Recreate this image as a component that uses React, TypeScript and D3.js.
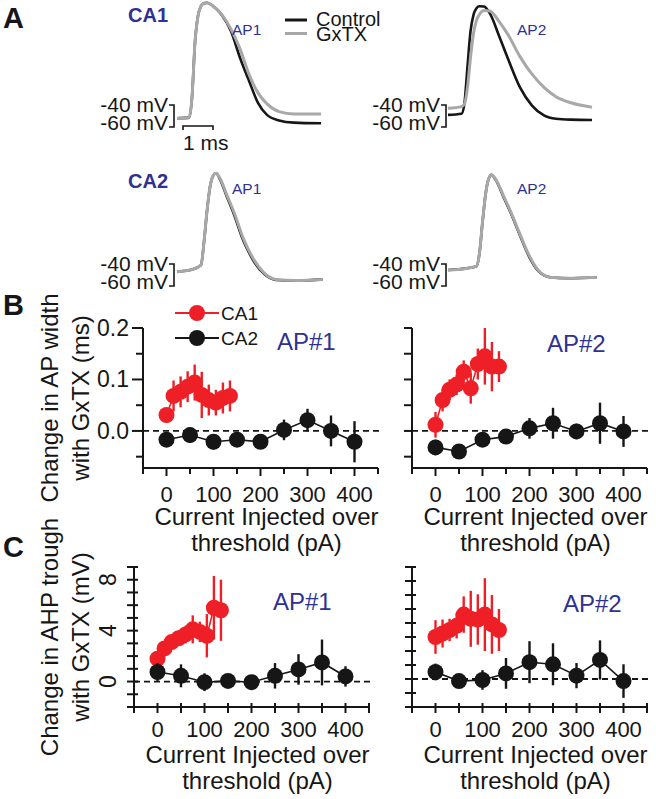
import React from "react";
import * as d3 from "d3";

// ---------- Panel A: action potential traces (time in ms, voltage in mV) ----------
const ca1Ap1Time = [0, 0.4, 0.5, 0.6, 0.7, 0.8, 0.9, 1.0, 1.2, 1.5, 1.8, 2.1, 2.4, 2.7, 3.0, 3.4, 3.9, 4.8];
const ca1Ap1Control = [-52, -51.5, -33, 17, 41, 50, 52.5, 53, 50, 41.5, 27, 3, -18, -38, -49, -54, -56, -56.6];
const ca1Ap1GxTX = [-52, -51.5, -33, 17, 41, 50, 52.5, 53, 50, 42, 29, 11, -12, -29, -39, -46, -48.2, -48.2];

const ca1Ap2Time = [0, 0.45, 0.55, 0.65, 0.75, 0.85, 0.95, 1.05, 1.2, 1.4, 1.7, 2.0, 2.4, 2.8, 3.2, 3.6, 4.1, 4.8];
const ca1Ap2Control = [-49, -48, -38, -5, 27, 42, 48, 49.8, 49.5, 43, 23, 2, -24, -40.5, -49.5, -52.5, -53.3, -53.6];
const ca1Ap2GxTX = [-43, -41.5, -39, -24, 3, 25, 37, 42.5, 46, 45.5, 36, 24, 4, -12, -24, -32.5, -38, -42];

const ca2Ap1Time = [0, 0.5, 0.8, 0.9, 1.0, 1.1, 1.2, 1.3, 1.45, 1.65, 1.9, 2.2, 2.55, 2.9, 3.3, 4.0, 4.85];
const ca2Ap1Control = [-47, -45, -41, -20, 8, 30, 40, 42.5, 36, 22, 5, -18, -37, -49, -54.5, -55.2, -54];
const ca2Ap1GxTX = [-47, -45, -41, -20, 8, 30, 40, 42.5, 37, 23.5, 7, -16, -35.5, -48, -54, -55, -54];

const ca2Ap2Time = [0, 0.6, 0.95, 1.05, 1.15, 1.25, 1.35, 1.45, 1.6, 1.85, 2.1, 2.4, 2.7, 3.0, 3.4, 4.0, 4.95];
const ca2Ap2Control = [-45.5, -44, -42, -30, -2, 23, 37, 41, 36, 21, 6, -14, -33, -46, -52, -53, -52];
const ca2Ap2GxTX = [-45.5, -44, -42, -30, -2, 23, 37, 41, 36.5, 22, 7, -13, -32, -45.5, -52, -53, -52];

// ---------- Panels B & C: current injected over threshold (pA) ----------
const ca1Current = [0, 15, 30, 45, 60, 75, 90, 105, 120, 135];
const ca2Current = [0, 50, 100, 150, 200, 250, 300, 350, 400];

// B: change in AP width (ms)
const widthAp1Ca1 = [0.031, 0.068, 0.076, 0.086, 0.094, 0.07, 0.06, 0.055, 0.064, 0.068];
const widthAp1Ca1Err = [0.012, 0.03, 0.03, 0.03, 0.035, 0.045, 0.03, 0.025, 0.03, 0.03];
const widthAp1Ca2 = [-0.017, -0.008, -0.021, -0.017, -0.021, 0.002, 0.021, 0.0, -0.021];
const widthAp1Ca2Err = [0.012, 0.015, 0.015, 0.012, 0.012, 0.02, 0.022, 0.03, 0.04];

const widthAp2Ca1 = [0.012, 0.06, 0.08, 0.09, 0.115, 0.083, 0.13, 0.145, 0.125, 0.125];
const widthAp2Ca1Err = [0.025, 0.022, 0.02, 0.02, 0.022, 0.03, 0.03, 0.055, 0.048, 0.03];
const widthAp2Ca2 = [-0.032, -0.04, -0.017, -0.011, 0.005, 0.015, -0.001, 0.015, -0.001];
const widthAp2Ca2Err = [0.015, 0.008, 0.012, 0.012, 0.02, 0.03, 0.015, 0.04, 0.03];

// C: change in AHP trough (mV)
const ahpAp1Ca1 = [1.8, 2.6, 3.1, 3.4, 3.7, 4.1, 3.9, 3.6, 5.8, 5.6];
const ahpAp1Ca1Err = [0.5, 0.5, 0.5, 0.6, 0.7, 1.1, 0.8, 1.7, 2.5, 2.4];
const ahpAp1Ca2 = [0.75, 0.45, -0.05, 0.05, -0.05, 0.45, 0.95, 1.5, 0.4];
const ahpAp1Ca2Err = [0.7, 0.9, 0.7, 0.45, 0.45, 1.0, 1.2, 1.8, 0.8];

const ahpAp2Ca1 = [3.0, 3.25, 3.5, 3.8, 4.6, 4.3, 4.25, 4.6, 3.9, 3.5];
const ahpAp2Ca1Err = [1.2, 1.0, 0.8, 0.9, 1.3, 2.0, 1.8, 2.6, 2.1, 1.5];
const ahpAp2Ca2 = [0.5, -0.15, -0.07, 0.4, 1.2, 1.05, 0.24, 1.36, -0.15];
const ahpAp2Ca2Err = [0.6, 0.5, 0.7, 1.1, 1.5, 1.5, 0.9, 1.4, 1.2];

const xTickValues = [-50, 0, 50, 100, 150, 200, 250, 300, 350, 400, 450];
const xTickLabels = [0, 100, 200, 300, 400];
const widthTicks = [-0.05, 0, 0.05, 0.1, 0.15, 0.2];
const widthTickLabels = [0, 0.1, 0.2];
const ahpTicksLeft = [-2, -1, 0, 1, 2, 3, 4, 5, 6, 7, 8, 9];
const ahpTicksRight = [-2, -1, 0, 1, 2, 3, 4, 5, 6, 7, 8];
const ahpTickLabels = [0, 4, 8];

const FONT = "'Liberation Sans', Arial, Helvetica, sans-serif";
const RED = "#ee1f26";
const BLK = "#161616";
const GRAY = "#a8a8a8";
const BLUE = "#2e3192";

type TraceProps = {
  time: number[];
  control: number[];
  gxtx: number[];
  x0: number;
  y60: number;
  label: string;
  labelX: number;
  bracketX: number;
  timeBar?: boolean;
};

function Trace({ time, control, gxtx, x0, y60, label, labelX, bracketX, timeBar }: TraceProps) {
  const xs = d3.scaleLinear().domain([0, 5]).range([x0, x0 + 150]);
  const ys = d3.scaleLinear().domain([-60, -40]).range([y60, y60 - 22]);
  const mk = (vals: number[]) =>
    d3
      .line<number>()
      .x((_, i) => xs(time[i]))
      .y((v) => ys(v))
      .curve(d3.curveMonotoneX)(vals) || "";
  const y40 = ys(-40);
  const yb = ys(-60);
  return (
    <g>
      <path d={mk(control)} fill="none" stroke={BLK} strokeWidth={2.6} />
      <path d={mk(gxtx)} fill="none" stroke={GRAY} strokeWidth={3} />
      <path
        d={`M${bracketX - 5},${y40} H${bracketX} V${yb} H${bracketX - 5}`}
        fill="none"
        stroke={BLK}
        strokeWidth={1.6}
      />
      <text x={bracketX - 6} y={y40 + 7} textAnchor="end" fontSize={21} fontFamily={FONT} fill={BLK}>
        -40 mV
      </text>
      <text x={bracketX - 6} y={yb + 3} textAnchor="end" fontSize={21} fontFamily={FONT} fill={BLK}>
        -60 mV
      </text>
      <text x={labelX} y={y60 - 92} fontSize={15.5} fontFamily={FONT} fill={BLUE}>
        {label}
      </text>
      {timeBar && (
        <g>
          <path
            d={`M${xs(0.2)},${yb + 3} V${yb - 1} H${xs(1.2)} V${yb + 3}`}
            fill="none"
            stroke={BLK}
            strokeWidth={1.6}
          />
          <text x={xs(0.2)} y={yb + 23} fontSize={21} fontFamily={FONT} fill={BLK}>
            1 ms
          </text>
        </g>
      )}
    </g>
  );
}

type PanelProps = {
  x0: number;
  yDomain: [number, number];
  yTop: number;
  yBottom: number;
  yTicks: number[];
  yLabels: number[] | null;
  yFormat: (v: number) => string;
  majorY: number[];
  kind: "B" | "C";
  red: number[];
  redErr: number[];
  black: number[];
  blackErr: number[];
  redOnTop: boolean;
  dashEnd: number;
  apLabel: string;
  apX: number;
  apY: number;
  leftPanel: boolean;
};

function Panel(p: PanelProps) {
  const xs = d3.scaleLinear().domain([-50, 450]).range([p.x0, p.x0 + 235]);
  const ys = d3.scaleLinear().domain(p.yDomain).range([p.yBottom, p.yTop]);
  const line = d3
    .line<[number, number]>()
    .x((d) => xs(d[0]))
    .y((d) => ys(d[1]));
  const series = (xv: number[], yv: number[], ev: number[], color: string, key: string) => (
    <g key={key}>
      <path d={line(xv.map((x, i) => [x, yv[i]])) || ""} fill="none" stroke={color} strokeWidth={1.6} />
      {xv.map((x, i) => (
        <line
          key={"e" + i}
          x1={xs(x)}
          x2={xs(x)}
          y1={ys(yv[i] - ev[i])}
          y2={ys(yv[i] + ev[i])}
          stroke={color}
          strokeWidth={2.4}
        />
      ))}
      {xv.map((x, i) => (
        <circle key={"c" + i} cx={xs(x)} cy={ys(yv[i])} r={8} fill={color} />
      ))}
    </g>
  );
  const redS = series(ca1Current, p.red, p.redErr, RED, "red");
  const blkS = series(ca2Current, p.black, p.blackErr, BLK, "blk");
  const axisX = p.x0;
  const axisY = p.yBottom;
  const cx = (xs(-50) + xs(450)) / 2 + 6;
  const tickY = p.kind === "B" ? axisY + 34 : axisY + 30;
  const title1Y = p.kind === "B" ? axisY + 57 : axisY + 56;
  return (
    <g fontFamily={FONT}>
      <line
        x1={axisX}
        x2={p.dashEnd}
        y1={ys(0)}
        y2={ys(0)}
        stroke={BLK}
        strokeWidth={1.8}
        strokeDasharray="6,4"
      />
      {/* y axis */}
      <line x1={axisX} x2={axisX} y1={p.yTop} y2={p.yBottom + 1} stroke={BLK} strokeWidth={2} />
      {p.yTicks.map((t) => {
        const y = ys(t);
        if (p.kind === "B") {
          const len = p.leftPanel ? (p.majorY.includes(t) ? 11 : 7) : 8;
          return <line key={"yt" + t} x1={axisX - len} x2={axisX} y1={y} y2={y} stroke={BLK} strokeWidth={2} />;
        }
        return <line key={"yt" + t} x1={axisX - 7} x2={axisX + 4} y1={y} y2={y} stroke={BLK} strokeWidth={2} />;
      })}
      {p.yLabels &&
        p.yLabels.map((t) =>
          p.kind === "B" ? (
            <text key={"yl" + t} x={axisX - 14} y={ys(t) + 8} textAnchor="end" fontSize={23} fill={BLK}>
              {p.yFormat(t)}
            </text>
          ) : (
            <text
              key={"yl" + t}
              transform={`translate(${axisX - 18},${ys(t)}) rotate(-90)`}
              textAnchor="middle"
              fontSize={23}
              fill={BLK}
            >
              {p.yFormat(t)}
            </text>
          )
        )}
      {/* x axis */}
      <line x1={axisX - 1} x2={xs(450)} y1={axisY} y2={axisY} stroke={BLK} strokeWidth={2} />
      {xTickValues.map((t) => {
        const x = xs(t);
        if (p.kind === "B") {
          const len = t % 100 === 0 ? 8 : 6;
          return <line key={"xt" + t} x1={x} x2={x} y1={axisY} y2={axisY + len} stroke={BLK} strokeWidth={2} />;
        }
        return <line key={"xt" + t} x1={x} x2={x} y1={axisY - 4} y2={axisY + 6} stroke={BLK} strokeWidth={2} />;
      })}
      {xTickLabels.map((t) => (
        <text key={"xl" + t} x={xs(t)} y={tickY} textAnchor="middle" fontSize={22} fill={BLK}>
          {t}
        </text>
      ))}
      <text x={cx} y={title1Y} textAnchor="middle" fontSize={24} fill={BLK}>
        Current Injected over
      </text>
      <text x={cx} y={title1Y + 26} textAnchor="middle" fontSize={24} fill={BLK}>
        threshold (pA)
      </text>
      {p.redOnTop ? [blkS, redS] : [redS, blkS]}
      <text x={p.apX} y={p.apY} fontSize={24} fill={BLUE}>
        {p.apLabel}
      </text>
    </g>
  );
}

export default function App() {
  const fmtW = (v: number) => d3.format(".1f")(v);
  const fmtA = (v: number) => String(v);
  return (
    <svg
      width={656}
      height={799}
      viewBox="0 0 656 799"
      style={{ position: "absolute", left: 0, top: 0, background: "#fff" }}
      fontFamily={FONT}
    >
      <rect width={656} height={799} fill="#fff" />
      {/* Panel labels */}
      <text x={3} y={28} fontSize={29} fontWeight="bold" fill={BLK}>A</text>
      <text x={3} y={315} fontSize={29} fontWeight="bold" fill={BLK}>B</text>
      <text x={3} y={557} fontSize={29} fontWeight="bold" fill={BLK}>C</text>

      {/* Panel A */}
      <text x={128} y={22} fontSize={20} fontWeight="bold" fill={BLUE}>CA1</text>
      <text x={128} y={188} fontSize={20} fontWeight="bold" fill={BLUE}>CA2</text>
      <Trace time={ca1Ap1Time} control={ca1Ap1Control} gxtx={ca1Ap1GxTX} x0={177} y60={127}
        label="AP1" labelX={232} bracketX={174} timeBar />
      <Trace time={ca1Ap2Time} control={ca1Ap2Control} gxtx={ca1Ap2GxTX} x0={448} y60={127}
        label="AP2" labelX={517} bracketX={446} />
      <Trace time={ca2Ap1Time} control={ca2Ap1Control} gxtx={ca2Ap1GxTX} x0={177} y60={286}
        label="AP1" labelX={232} bracketX={174} />
      <Trace time={ca2Ap2Time} control={ca2Ap2Control} gxtx={ca2Ap2GxTX} x0={448} y60={286}
        label="AP2" labelX={517} bracketX={446} />
      {/* legend A */}
      <line x1={285} x2={307} y1={20} y2={20} stroke={BLK} strokeWidth={3} />
      <line x1={285} x2={307} y1={33.5} y2={33.5} stroke={GRAY} strokeWidth={3} />
      <text x={316} y={26} fontSize={20} fill={BLK}>Control</text>
      <text x={316} y={41} fontSize={20} fill={BLK}>GxTX</text>

      {/* Panel B y title */}
      <text transform="translate(58,398) rotate(-90)" textAnchor="middle" fontSize={24} fill={BLK}>
        Change in AP width
      </text>
      <text transform="translate(89,398) rotate(-90)" textAnchor="middle" fontSize={24} fill={BLK}>
        with GxTX (ms)
      </text>
      {/* Panel C y title */}
      <text transform="translate(58,637) rotate(-90)" textAnchor="middle" fontSize={24} fill={BLK}>
        Change in AHP trough
      </text>
      <text transform="translate(89,637) rotate(-90)" textAnchor="middle" fontSize={24} fill={BLK}>
        with GxTX (mV)
      </text>

      <Panel x0={143} yDomain={[-0.072, 0.2]} yTop={328} yBottom={468} yTicks={widthTicks}
        yLabels={widthTickLabels} yFormat={fmtW} majorY={widthTickLabels} kind="B"
        red={widthAp1Ca1} redErr={widthAp1Ca1Err} black={widthAp1Ca2} blackErr={widthAp1Ca2Err}
        redOnTop dashEnd={380} apLabel="AP#1" apX={277} apY={350} leftPanel />
      <Panel x0={412} yDomain={[-0.072, 0.2]} yTop={328} yBottom={468} yTicks={widthTicks}
        yLabels={null} yFormat={fmtW} majorY={widthTickLabels} kind="B"
        red={widthAp2Ca1} redErr={widthAp2Ca1Err} black={widthAp2Ca2} blackErr={widthAp2Ca2Err}
        redOnTop dashEnd={652} apLabel="AP#2" apX={547} apY={352} leftPanel={false} />
      <Panel x0={134} yDomain={[-2, 9]} yTop={567} yBottom={707} yTicks={ahpTicksLeft}
        yLabels={ahpTickLabels} yFormat={fmtA} majorY={ahpTickLabels} kind="C"
        red={ahpAp1Ca1} redErr={ahpAp1Ca1Err} black={ahpAp1Ca2} blackErr={ahpAp1Ca2Err}
        redOnTop={false} dashEnd={372} apLabel="AP#1" apX={273} apY={610} leftPanel />
      <Panel x0={412} yDomain={[-2, 8]} yTop={567} yBottom={707} yTicks={ahpTicksRight}
        yLabels={null} yFormat={fmtA} majorY={ahpTickLabels} kind="C"
        red={ahpAp2Ca1} redErr={ahpAp2Ca1Err} black={ahpAp2Ca2} blackErr={ahpAp2Ca2Err}
        redOnTop={false} dashEnd={652} apLabel="AP#2" apX={563} apY={612} leftPanel={false} />

      {/* legend B */}
      <line x1={175} x2={219} y1={313} y2={313} stroke={RED} strokeWidth={2} />
      <circle cx={197} cy={313} r={8} fill={RED} />
      <text x={221} y={320} fontSize={19} fill={BLK}>CA1</text>
      <line x1={175} x2={219} y1={338} y2={338} stroke={BLK} strokeWidth={2} />
      <circle cx={197} cy={338} r={8} fill={BLK} />
      <text x={221} y={345} fontSize={19} fill={BLK}>CA2</text>
    </svg>
  );
}
